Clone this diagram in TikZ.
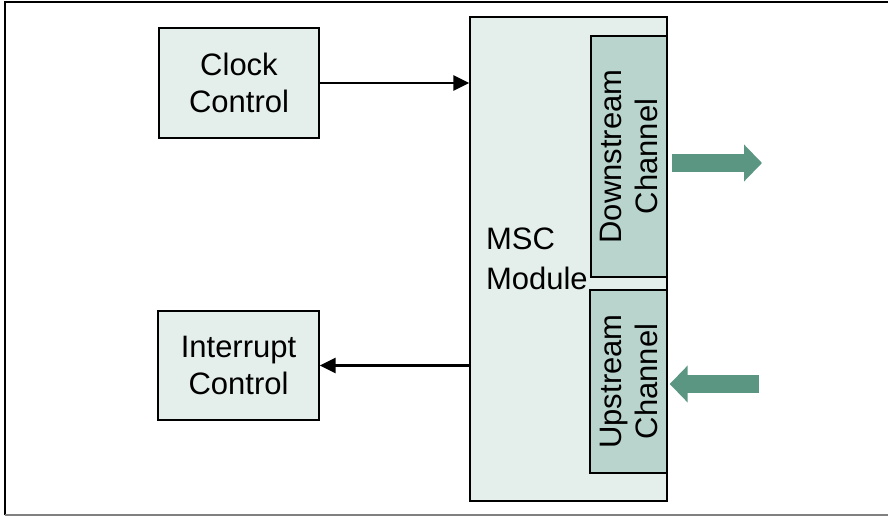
\documentclass[tikz,border=0pt]{standalone}
\usepackage{fontspec}
\setmainfont{Liberation Sans}
\usetikzlibrary{arrows.meta}

\definecolor{boxfill}{HTML}{E4EFEB}
\definecolor{chanfill}{HTML}{B8D4CC}
\definecolor{flowgreen}{HTML}{5A9682}

\begin{document}
\begin{tikzpicture}[x = 1pt, y = -1pt,
  block/.style = {draw, line width = 1.4pt, fill = boxfill, inner sep = 0pt,
    font = \fontsize{31}{37}\selectfont},
  chan/.style = {draw, line width = 1.4pt, fill = chanfill, inner sep = 0pt, rotate = 90,
    align = center, font = \fontsize{31}{36}\selectfont},
  sig/.style = {line width = 2.8pt, -{Triangle[length = 16pt, width = 15pt]}},
  flow/.style = {flowgreen, line width = 18pt, -{Triangle[length = 18pt, width = 36pt]}}]
\useasboundingbox (0,0) rectangle (888,516);

% frame
\draw[line width = 1.5pt] (5,515) -- (5,2) -- (892,2);
\draw[gray, line width = 1.5pt] (5,515) -- (892,515);

\node[block, minimum width = 160pt, minimum height = 110pt, align = center] (clock) at (239,83) {Clock\\Control};
\node[block, minimum width = 161pt, minimum height = 109pt, align = center] (intr) at (238.5,365.5) {Interrupt\\Control};

\node[block, minimum height = 484pt, inner xsep = 16pt, text width = 165pt, align = left,
  font = \fontsize{31}{40}\selectfont] (msc) at (568.5,259) {MSC\\Module};

% rotated boxes: south is the right side on the page
\node[chan, minimum width = 241pt, minimum height = 76pt] (down) at (629,156.5) {Downstream\\Channel};
\node[chan, minimum width = 183pt, minimum height = 77pt] (up) at (628.5,381.5) {Upstream\\Channel};

\draw[sig] (clock.east) -- (msc.west |- clock.east);
\draw[sig] (msc.west |- intr.east) -- (intr.east);

\coordinate (dsout) at (762,163);
\coordinate (usin) at (759,384);
\draw[flow, shorten <= 4pt] (down.south |- dsout) -- (dsout);
\draw[flow, shorten >= 2pt] (usin) -- (up.south |- usin);
\end{tikzpicture}
\end{document}
